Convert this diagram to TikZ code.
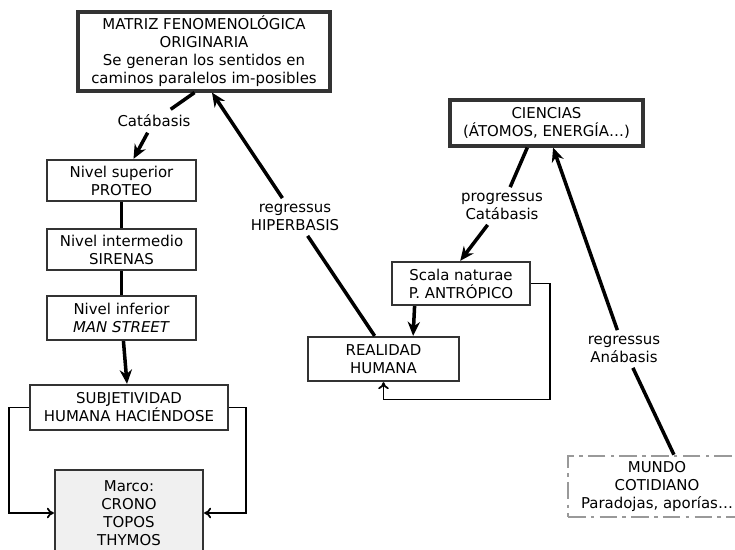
\documentclass[tikz,border=0pt]{standalone}
\usepackage{fontspec}
\setmainfont{DejaVu Sans}
\usetikzlibrary{arrows.meta}
\begin{document}
\begin{tikzpicture}[x=0.02cm,y=-0.02cm,>={Stealth[length=8pt,width=7pt]},
  font=\fontsize{8.5}{10.2}\selectfont,
  box/.style={draw=black!80, line width=1.3pt, align=center, inner sep=1pt},
  bigbox/.style={box, line width=1.8pt},
  lbl/.style={align=center, inner sep=3pt},
  conn/.style={draw, line width=2pt},
  loopline/.style={draw, line width=1pt, -{To[length=4pt,width=6pt]}}]
\clip (0,0) rectangle (735,549);
\node[bigbox, minimum width=5.04cm, minimum height=1.58cm] (matriz) at (204,51.5) {MATRIZ FENOMENOLÓGICA\\ORIGINARIA\\Se generan los sentidos en\\caminos paralelos im-posibles};
\node[box, minimum width=2.98cm, minimum height=0.82cm] (proteo) at (121.5,180.5) {Nivel superior\\PROTEO};
\node[box, minimum width=2.98cm, minimum height=0.82cm] (sirenas) at (121.5,249.5) {Nivel intermedio\\SIRENAS};
\node[box, minimum width=2.98cm, minimum height=0.88cm] (street) at (121.5,318) {Nivel inferior\\\textit{MAN STREET}};
\node[box, minimum width=3.96cm, minimum height=0.9cm] (subj) at (129,407.5) {SUBJETIVIDAD\\HUMANA HACIÉNDOSE};
\node[box, fill=gray!12, minimum width=2.96cm, minimum height=1.72cm] (marco) at (129,513) {Marco:\\CRONO\\TOPOS\\THYMOS};
\node[bigbox, minimum width=3.86cm, minimum height=0.92cm] (ciencias) at (546.5,123) {CIENCIAS\\(ÁTOMOS, ENERGÍA\ldots)};
\node[box, minimum width=2.76cm, minimum height=0.86cm] (scala) at (461,283.5) {Scala naturae\\P. ANTRÓPICO};
\node[box, minimum width=3.02cm, minimum height=0.88cm] (realidad) at (383.5,359) {REALIDAD\\HUMANA};
\node[box, draw=gray!80, line width=1.5pt, dash pattern=on 10pt off 3pt on 2pt off 3pt, minimum width=3.56cm, minimum height=1.22cm] (mundo) at (657,486.5) {MUNDO\\COTIDIANO\\Paradojas, aporías\ldots};

\node[lbl] (catab) at (154,121) {Catábasis};
\node[lbl] (hiper) at (295,217) {regressus\\HIPERBASIS};
\node[lbl] (progr) at (502,206) {progressus\\Catábasis};
\node[lbl] (anab) at (624,349) {regressus\\Anábasis};

\path[conn] (matriz.257) -- (catab);
\path[conn,->] (catab) -- (proteo.61);
\path[conn] (proteo) -- (sirenas);
\path[conn] (sirenas) -- (street);
\path[conn,->] (street) -- (subj);
\path[loopline] (subj.west) -- ++(-20,0) |- (marco.west);
\path[loopline] (subj.east) -- ++(17,0) |- (marco.east);
\path[conn] (realidad.111) -- (hiper);
\path[conn,->] (hiper) -- (matriz.281);
\path[conn] (ciencias.232) -- (progr);
\path[conn,->] (progr) -- (scala.92);
\path[conn,->] (scala.206) -- (realidad.38);
\path[loopline] (scala.east) -- ++(19,0) -- ++(0,116) -| (realidad.south);
\path[conn] (mundo.62) -- (anab);
\path[conn,->] (anab) -- (ciencias.285);
\end{tikzpicture}
\end{document}
